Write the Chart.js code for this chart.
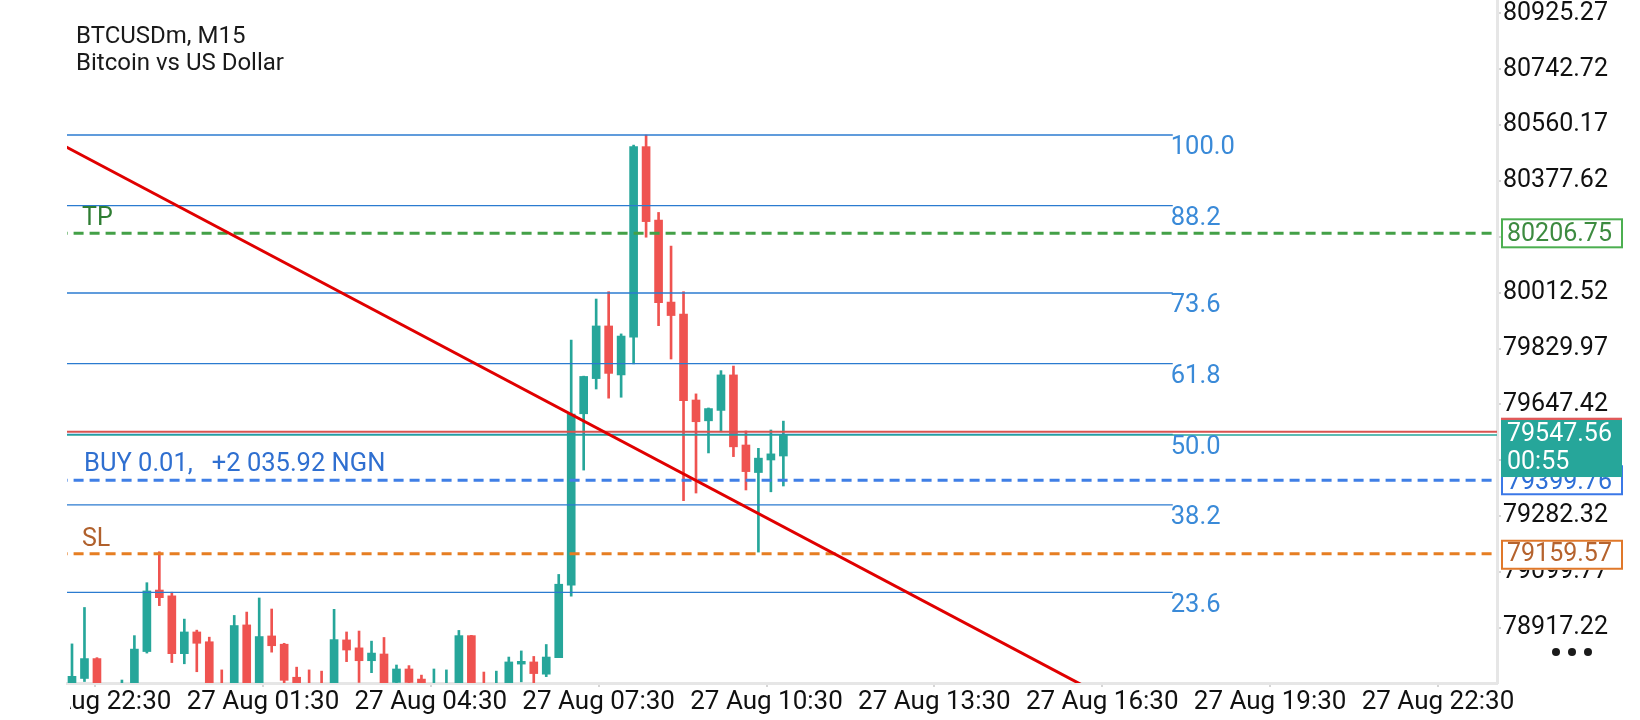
<!DOCTYPE html>
<html>
<head>
<meta charset="utf-8">
<title>BTCUSDm, M15</title>
<script src="https://cdn.jsdelivr.net/npm/chart.js@4.4.1/dist/chart.umd.min.js"></script>
<style>
    html, body { margin: 0; padding: 0; background: #fff; }
    #chart { display: block; }
</style>
</head>
<body>
<canvas id="chart" width="1640" height="720"></canvas>
<script>
// M15 bars, oldest first. Parts hidden under the bottom edge are guesses.
const opens  = [78682, 78752, 78817, 78690, 78650, 78700, 78840, 79041, 79022, 78833,
                78904, 78872, 78725, 78720, 78927, 78725, 78891, 78864, 78756, 78730,
                78730, 78720, 78878, 78852, 78810, 78832, 78739, 78783, 78750, 78700,
                78705, 78720, 78892, 78730, 78710, 78730, 78799, 78806, 78766, 78820,
                79057, 79617, 79732, 79904, 79744, 79867, 80490, 80250, 79982, 79943,
                79662, 79594, 79628, 79744, 79515, 79425, 79466, 79479];
const highs  = [78865, 78984, 78820, 78720, 78747, 78892, 79065, 79166, 79034, 78946,
                78910, 78887, 78780, 78958, 78969, 79015, 78979, 78867, 78789, 78780,
                78776, 78978, 78904, 78907, 78874, 78886, 78796, 78794, 78763, 78783,
                78780, 78909, 78893, 78773, 78776, 78822, 78842, 78824, 78863, 79092,
                79858, 79740, 79992, 80016, 79878, 80495, 80528, 80275, 80165, 80016,
                79682, 79636, 79758, 79773, 79561, 79504, 79564, 79593];
const lows   = [78665, 78742, 78640, 78640, 78630, 78690, 78835, 78990, 78804, 78800,
                78774, 78690, 78670, 78710, 78690, 78715, 78838, 78727, 78690, 78680,
                78690, 78710, 78807, 78739, 78771, 78725, 78729, 78729, 78700, 78690,
                78695, 78710, 78715, 78705, 78700, 78720, 78741, 78732, 78758, 78820,
                79021, 79433, 79698, 79668, 79671, 79780, 80194, 79905, 79796, 79333,
                79358, 79489, 79558, 79477, 79368, 79165, 79362, 79381];
const closes = [78759, 78817, 78649, 78660, 78720, 78848, 79038, 79016, 78833, 78904,
                78867, 78700, 78680, 78925, 78700, 78889, 78859, 78746, 78700, 78690,
                78700, 78879, 78845, 78810, 78835, 78735, 78783, 78739, 78710, 78730,
                78728, 78892, 78725, 78715, 78730, 78806, 78808, 78768, 78822, 79060,
                79616, 79739, 79904, 79749, 79871, 80490, 80245, 79980, 79938, 79660,
                79591, 79634, 79744, 79509, 79428, 79472, 79486, 79547.56];

// time axis: label positions in bar units
const xTickPos = [1.85, 15.3, 28.75, 42.2, 55.65, 69.1, 82.55, 96.0, 109.45];
const xTickLabels = ['26 Aug 22:30', '27 Aug 01:30', '27 Aug 04:30', '27 Aug 07:30', '27 Aug 10:30',
                     '27 Aug 13:30', '27 Aug 16:30', '27 Aug 19:30', '27 Aug 22:30'];
const yTicks = [80925.27, 80742.72, 80560.17, 80377.62, 80195.07, 80012.52,
                79829.97, 79647.42, 79464.87, 79282.32, 79099.77, 78917.22];

// fibonacci retracement
const fibLevels = [100, 88.2, 73.6, 61.8, 50, 38.2, 23.6];
const fibLow = 78572;
const fibHigh = 80528;
const fibStart = -5;
const fibEnd = 88.2;

// trade levels and prices
const tpPrice = 80206.75;
const slPrice = 79159.57;
const buyPrice = 79399.76;
const bidPrice = 79547.56;
const askPrice = 79558.4;
const buyText = 'BUY 0.01,   +2 035.92 NGN';
const timeLeft = '00:55';

// trend line anchors (bar, price)
const trendX = [-1, 90];
const trendY = [80500.5, 78534.9];

const GREEN = '#26a69a';
const RED = '#ef5350';
const FONT = '25px Roboto';

const idx = opens.map((_, i) => i);
const colors = idx.map(i => closes[i] >= opens[i] ? GREEN : RED);

const hLine = (price, from, to, color, width, dash, order) => ({
    type: 'line',
    data: [{ x: from, y: price }, { x: to, y: price }],
    borderColor: color,
    borderWidth: width,
    borderDash: dash,
    pointRadius: 0,
    clip: 0,
    order: order
});

const fibPrice = l => fibLow + (fibHigh - fibLow) * l / 100;

const datasets = [
    {
        type: 'line',
        data: trendX.map((x, k) => ({ x: x, y: trendY[k] })),
        borderColor: '#e00000',
        borderWidth: 3,
        pointRadius: 0,
        clip: 0,
        order: 0
    },
    hLine(tpPrice, -5, 130, '#43a047', 3, [10, 6], 2),
    hLine(slPrice, -5, 130, '#e67e22', 3, [10, 6], 2),
    hLine(buyPrice, -5, 130, '#3f7fe6', 3, [10, 6], 2),
    hLine(askPrice, -5, 130, '#d9534f', 2, [], 3),
    hLine(bidPrice, -5, 130, GREEN, 1.5, [], 3),
    ...fibLevels.map(l => hLine(fibPrice(l), fibStart, fibEnd, '#2b7bd0', 1.3, [], 4)),
    {
        type: 'bar',
        data: idx.map(i => ({ x: i, y: [opens[i], closes[i]] })),
        backgroundColor: colors,
        barThickness: 8,
        minBarLength: 2,
        grouped: false,
        clip: 0,
        order: 10
    },
    {
        type: 'bar',
        data: idx.map(i => ({ x: i, y: [lows[i], highs[i]] })),
        backgroundColor: colors,
        barThickness: 2,
        grouped: false,
        clip: 0,
        order: 11
    }
];

const box = (ctx, top, h, stroke, fill) => {
    ctx.fillStyle = fill;
    ctx.fillRect(1501, top, 121, h);
    if (stroke) {
        ctx.strokeStyle = stroke;
        ctx.lineWidth = 2;
        ctx.strokeRect(1502, top + 1, 120, h - 2);
    }
};

const overlay = {
    id: 'overlay',
    afterDatasetsDraw(chart) {
        const { ctx, scales: { x, y } } = chart;
        ctx.save();
        ctx.font = '25.5px Roboto';
        ctx.textBaseline = 'middle';
        ctx.fillStyle = '#3a8ad8';
        fibLevels.forEach(l => {
            ctx.fillText(l.toFixed(1), x.getPixelForValue(fibEnd) - 2, y.getPixelForValue(fibPrice(l)) + 13);
        });

        ctx.font = FONT;
        ctx.textBaseline = 'alphabetic';
        ctx.fillStyle = '#2e7d32';
        ctx.fillText('TP', 82, y.getPixelForValue(tpPrice) - 8);
        ctx.fillStyle = '#b0602c';
        ctx.fillText('SL', 82, y.getPixelForValue(slPrice) - 8);
        ctx.font = '25.5px Roboto';
        ctx.fillStyle = '#2f6fd0';
        ctx.fillText(buyText, 84, y.getPixelForValue(buyPrice) - 9);
        ctx.restore();
    },
    afterDraw(chart) {
        const { ctx, chartArea: a, scales: { y } } = chart;
        ctx.save();
        ctx.font = FONT;
        ctx.textBaseline = 'middle';

        // price tags on the right axis
        const tp = y.getPixelForValue(tpPrice);
        box(ctx, tp - 15, 30, '#4caf50', '#fff');
        ctx.fillStyle = '#3d8b40';
        ctx.fillText(tpPrice.toFixed(2), 1507, tp + 1);

        const sl = y.getPixelForValue(slPrice);
        box(ctx, sl - 14, 30, '#e0782a', '#fff');
        ctx.fillStyle = '#b5632e';
        ctx.fillText(slPrice.toFixed(2), 1507, sl + 1);

        const buy = y.getPixelForValue(buyPrice);
        box(ctx, buy - 15, 30, '#3b78e7', '#fff');
        ctx.fillStyle = '#2f6fd6';
        ctx.fillText(buyPrice.toFixed(2), 1507, buy + 2);

        const ask = y.getPixelForValue(askPrice);
        box(ctx, ask - 14, 28, null, '#e05a5a');
        const bid = y.getPixelForValue(bidPrice);
        box(ctx, bid - 15, 57, null, GREEN);
        ctx.fillStyle = '#fff';
        ctx.fillText(bidPrice.toFixed(2), 1507, bid);
        ctx.fillText(timeLeft, 1507, bid + 28);

        // symbol caption
        ctx.font = '24px Roboto';
        ctx.fillStyle = '#1a1a1a';
        ctx.fillText('BTCUSDm, M15', 76, 37);
        ctx.fillText('Bitcoin vs US Dollar', 76, 64);

        // menu dots
        [1556, 1572, 1588].forEach(cx => {
            ctx.beginPath();
            ctx.arc(cx, 652, 4, 0, Math.PI * 2);
            ctx.fill();
        });

        // left edge of the time axis is cut off in the app
        ctx.fillStyle = '#fff';
        ctx.fillRect(0, a.bottom + 3, a.left + 3, 40);
        ctx.restore();
    }
};

new Chart(document.getElementById('chart'), {
    type: 'bar',
    data: { datasets: datasets },
    options: {
        responsive: false,
        animation: false,
        events: [],
        devicePixelRatio: 1,
        layout: { padding: { left: 67, top: 0, right: 0, bottom: 0 }, autoPadding: false },
        plugins: { legend: { display: false }, tooltip: { enabled: false } },
        scales: {
            x: {
                type: 'linear',
                min: -0.4,
                max: 114.18,
                offset: false,
                afterFit: s => {
                    s.height = 37;
                    s.paddingLeft = 0;
                    s.paddingRight = 0;
                },
                afterBuildTicks: s => { s.ticks = xTickPos.map(v => ({ value: v })); },
                grid: { drawOnChartArea: false, drawTicks: true, tickLength: 4, color: '#d6d6d6', lineWidth: 2, offset: false },
                border: { display: true, color: '#e6e6e6', width: 3 },
                ticks: {
                    autoSkip: false,
                    maxRotation: 0,
                    minRotation: 0,
                    padding: 0,
                    color: '#111',
                    font: { family: 'Roboto', size: 26 },
                    callback: v => {
                        const k = xTickPos.indexOf(v);
                        return k >= 0 ? xTickLabels[k] : '';
                    }
                }
            },
            y: {
                position: 'right',
                min: 78737.2,
                max: 80969.2,
                afterFit: s => {
                    s.width = 143;
                    s.paddingTop = 0;
                    s.paddingBottom = 0;
                },
                afterBuildTicks: s => { s.ticks = yTicks.map(v => ({ value: v })); },
                grid: { drawOnChartArea: false, drawTicks: true, tickLength: 4, color: '#d6d6d6', lineWidth: 2 },
                border: { display: true, color: '#e6e6e6', width: 3 },
                ticks: {
                    autoSkip: false,
                    padding: 2,
                    color: '#111',
                    font: { family: 'Roboto', size: 25 },
                    callback: v => v.toFixed(2)
                }
            }
        }
    },
    plugins: [overlay]
});
</script>
</body>
</html>
